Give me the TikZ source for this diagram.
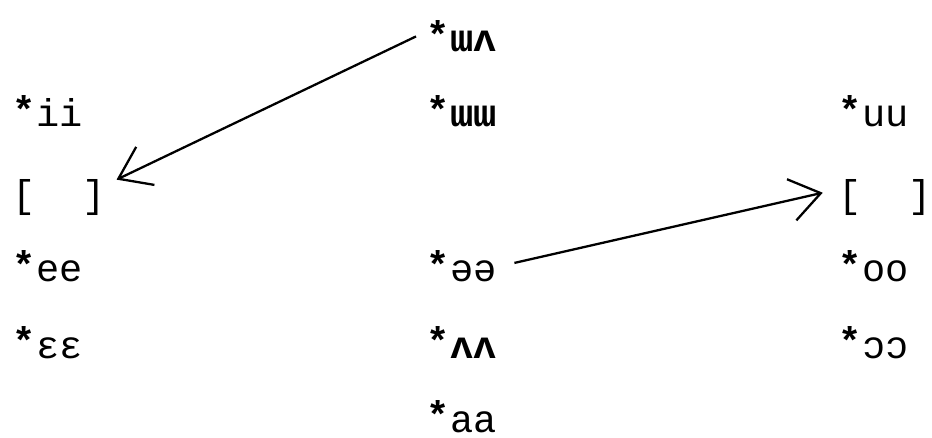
\documentclass[tikz,border=0pt]{standalone}
\usepackage{fontspec}
\setmonofont{Liberation Mono}
\usetikzlibrary{arrows.meta}
% reconstructed form marker
\newcommand\recon{\raisebox{2pt}{\bfseries *}}

\begin{document}
\begin{tikzpicture}[x=0.02cm, y=-0.02cm,
    vowel/.style={anchor=base west, inner sep=6pt,
      font=\ttfamily\fontsize{22}{26}\selectfont},
    vshift/.style={line width=1.3pt,
      -{Straight Barb[length=17pt, width=24pt, line width=1.3pt]}}]
  \useasboundingbox (0,0) rectangle (932,438);
  % front vowels
  \node[vowel] (ii) at (2, 127) {\recon ii};
  \node[vowel] (fgap) at (2, 208) {[\ \ ]};
  \node[vowel] (ee) at (2, 282) {\recon ee};
  \node[vowel] (eh) at (2, 358) {\recon ɛɛ};
  % central vowels
  \node[vowel] (wv) at (416, 52) {\recon\textbf{ɯʌ}};
  \node[vowel] (ww) at (416, 127) {\recon\textbf{ɯɯ}};
  \node[vowel] (schwa) at (416, 282) {\recon əə};
  \node[vowel] (vv) at (416, 358) {\recon\textbf{ʌʌ}};
  \node[vowel] (aa) at (416, 432) {\recon aa};
  % back vowels
  \node[vowel] (uu) at (828, 127) {\recon uu};
  \node[vowel] (bgap) at (828, 208) {[\ \ ]};
  \node[vowel] (oo) at (828, 282) {\recon oo};
  \node[vowel] (oh) at (828, 358) {\recon ɔɔ};
  % shifts
  \draw[vshift] (wv.west) -- ([yshift=-6pt]fgap.north east);
  \draw[vshift] ([xshift=4pt, yshift=2pt]schwa.east) -- ([xshift=-3pt, yshift=3pt]bgap.west);
\end{tikzpicture}
\end{document}
